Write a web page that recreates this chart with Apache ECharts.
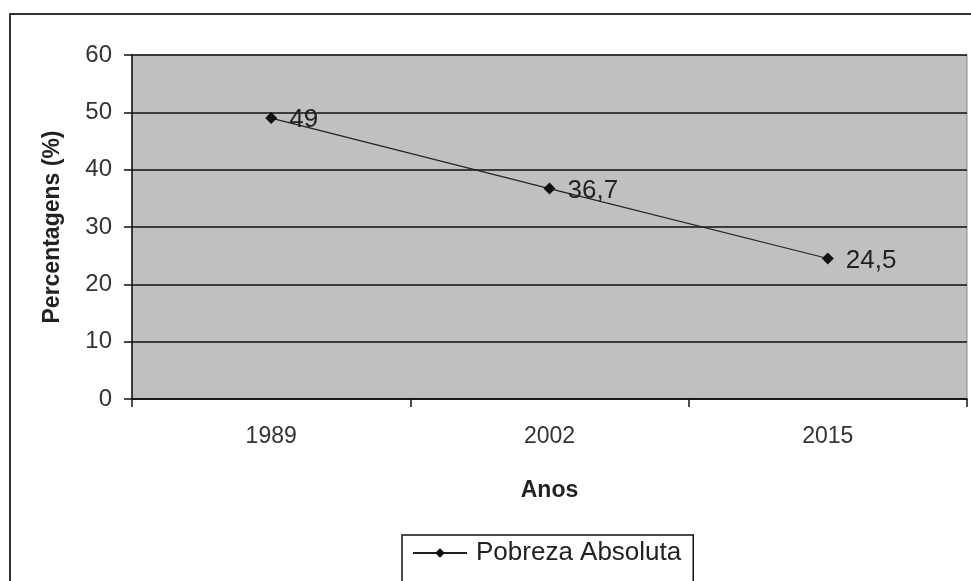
<!DOCTYPE html>
<html><head><meta charset="utf-8">
<script src="https://cdn.jsdelivr.net/npm/echarts@6/dist/echarts.min.js"></script>
<style>html,body{margin:0;padding:0;background:#fff}#c{width:971px;height:581px}</style>
</head><body><div id="c"></div>
<script>
var categories = ['1989', '2002', '2015'];
var pobrezaAbsoluta = [49, 36.7, 24.5];
var seriesName = 'Pobreza Absoluta';

var chart = echarts.init(document.getElementById('c'));
var font = 'Liberation Sans, Arial, sans-serif';
chart.setOption({
  animation: false,
  textStyle: { fontFamily: font },
  graphic: [{
    type: 'rect', left: 9, top: 13, z: -10,
    shape: { width: 980, height: 600 },
    style: { fill: '#fff', stroke: '#333', lineWidth: 2 }
  }],
  grid: {
    left: 132, right: 4, top: 55, bottom: 182,
    show: true, backgroundColor: '#c0c0c0', borderColor: '#8a8a8a', borderWidth: 1
  },
  legend: {
    left: 402, top: 535,
    data: [seriesName],
    itemWidth: 54, itemHeight: 12, itemGap: 10,
    borderColor: '#111', borderWidth: 1.5,
    padding: [5, 12, 30, 10],
    textStyle: { fontSize: 26, color: '#222', fontFamily: font, padding: [0, 0, 0, 4] }
  },
  xAxis: {
    type: 'category', data: categories, boundaryGap: true,
    name: 'Anos', nameLocation: 'middle', nameGap: 80,
    nameTextStyle: { fontSize: 23, fontWeight: 'bold', color: '#222' },
    axisLine: { lineStyle: { color: '#111', width: 1.5 } },
    axisTick: { show: true, interval: 0, length: 8, lineStyle: { color: '#111', width: 1.5 } },
    axisLabel: { fontSize: 23, color: '#333', margin: 26 },
    splitLine: { show: false }
  },
  yAxis: {
    type: 'value', min: 0, max: 60, interval: 10,
    name: 'Percentagens (%)', nameLocation: 'middle', nameGap: 68,
    nameTextStyle: { fontSize: 23, fontWeight: 'bold', color: '#222' },
    axisLine: { show: true, lineStyle: { color: '#111', width: 1.5 } },
    axisTick: { show: true, length: 8, lineStyle: { color: '#111', width: 1.5 } },
    axisLabel: { fontSize: 24, color: '#333', margin: 20 },
    splitLine: { show: true, lineStyle: { color: '#111', width: 1.5 } }
  },
  series: [{
    name: seriesName, type: 'line', data: pobrezaAbsoluta,
    symbol: 'diamond', symbolSize: 12,
    itemStyle: { color: '#111' },
    lineStyle: { color: '#222', width: 1.2 },
    label: {
      show: true, position: 'right', distance: 12, offset: [0, 2],
      fontSize: 26, color: '#222', fontFamily: font,
      formatter: function (p) { return String(p.value).replace('.', ','); }
    }
  }]
});
</script></body></html>
